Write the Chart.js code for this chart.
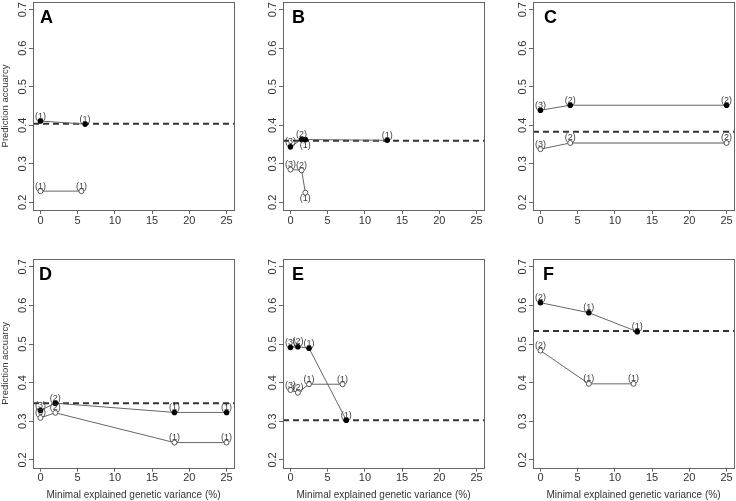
<!DOCTYPE html>
<html><head><meta charset="utf-8">
<script src="https://cdn.jsdelivr.net/npm/chart.js@4/dist/chart.umd.min.js"></script>
<style>
html,body{margin:0;padding:0;background:#fff;overflow:hidden;width:736px;height:501px}
#wrap{position:relative;width:736px;height:501px;overflow:hidden;background:#fff}
.p{position:absolute}
canvas{display:block}
</style></head>
<body><div id="wrap"></div>
<script>
// ---------- DATA ----------
const xTicks = [0, 5, 10, 15, 20, 25];
const yTicks = [0.2, 0.3, 0.4, 0.5, 0.6, 0.7];
const xTitle = 'Minimal explained genetic variance (%)';
const yTitle = 'Prediction accuarcy';
const panelLetters = ['A', 'B', 'C', 'D', 'E', 'F'];
const baselines = [0.404, 0.360, 0.383, 0.347, 0.303, 0.534];

// Panel A
const aFilledX = [0, 6];        const aFilledY = [0.411, 0.403];      const aFilledLab = ['(1)', '(1)'];
const aOpenX = [0, 5.5];        const aOpenY = [0.229, 0.229];        const aOpenLab = ['(1)', '(1)'];
// Panel B
const bFilledX = [0, 1.5, 2, 13]; const bFilledY = [0.344, 0.363, 0.363, 0.361]; const bFilledLab = ['(3)', '(2)', '(1)', '(1)'];
const bOpenX = [0, 1.5, 2];     const bOpenY = [0.285, 0.283, 0.225]; const bOpenLab = ['(3)', '(2)', '(1)'];
// Panel C
const cFilledX = [0, 4, 25];    const cFilledY = [0.439, 0.452, 0.452]; const cFilledLab = ['(3)', '(2)', '(2)'];
const cOpenX = [0, 4, 25];      const cOpenY = [0.338, 0.354, 0.354]; const cOpenLab = ['(3)', '(2)', '(2)'];
// Panel D
const dFilledX = [0, 2, 18, 25]; const dFilledY = [0.328, 0.347, 0.323, 0.323]; const dFilledLab = ['(3)', '(2)', '(1)', '(1)'];
const dOpenX = [0, 2, 18, 25];  const dOpenY = [0.309, 0.322, 0.245, 0.245]; const dOpenLab = ['(3)', '(2)', '(1)', '(1)'];
// Panel E
const eFilledX = [0, 1, 2.5, 7.5]; const eFilledY = [0.491, 0.493, 0.489, 0.303]; const eFilledLab = ['(3)', '(2)', '(1)', '(1)'];
const eOpenX = [0, 1, 2.5, 7];  const eOpenY = [0.381, 0.374, 0.396, 0.396]; const eOpenLab = ['(3)', '(2)', '(1)', '(1)'];
// Panel F
const fFilledX = [0, 6.5, 13];  const fFilledY = [0.607, 0.581, 0.532]; const fFilledLab = ['(2)', '(1)', '(1)'];
const fOpenX = [0, 6.5, 12.5];  const fOpenY = [0.483, 0.397, 0.397]; const fOpenLab = ['(2)', '(1)', '(1)'];

// which labels sit below their point
const bFilledBelow = [0, 0, 1, 0];
const bOpenBelow = [0, 0, 1];

// ---------- LAYOUT / STYLE ----------
const FONT = '"Liberation Sans", Arial, Helvetica, sans-serif';
const panels = [
  {fx: aFilledX, fy: aFilledY, fl: aFilledLab, ox: aOpenX, oy: aOpenY, ol: aOpenLab, col: 0, row: 0, letterDx: 7},
  {fx: bFilledX, fy: bFilledY, fl: bFilledLab, ox: bOpenX, oy: bOpenY, ol: bOpenLab, col: 1, row: 0, letterDx: 9, fb: bFilledBelow, ob: bOpenBelow},
  {fx: cFilledX, fy: cFilledY, fl: cFilledLab, ox: cOpenX, oy: cOpenY, ol: cOpenLab, col: 2, row: 0, letterDx: 11, lightTail: true},
  {fx: dFilledX, fy: dFilledY, fl: dFilledLab, ox: dOpenX, oy: dOpenY, ol: dOpenLab, col: 0, row: 1, letterDx: 6},
  {fx: eFilledX, fy: eFilledY, fl: eFilledLab, ox: eOpenX, oy: eOpenY, ol: eOpenLab, col: 1, row: 1, letterDx: 9},
  {fx: fFilledX, fy: fFilledY, fl: fFilledLab, ox: fOpenX, oy: fOpenY, ol: fOpenLab, col: 2, row: 1, letterDx: 10}
];

const zip = (xs, ys) => xs.map((x, i) => ({x: x, y: ys[i]}));

const wrap = document.getElementById('wrap');

panels.forEach((p, idx) => {
  const W = 250;
  const H = p.row === 0 ? 240 : 261;
  const div = document.createElement('div');
  div.className = 'p';
  div.style.left = (p.col * 250) + 'px';
  div.style.top = (p.row === 0 ? 0 : 240) + 'px';
  div.style.width = W + 'px';
  div.style.height = H + 'px';
  const cv = document.createElement('canvas');
  cv.width = W; cv.height = H;
  div.appendChild(cv);
  wrap.appendChild(div);

  const padTop = p.row === 0 ? 2 : 19;
  const xAxisH = p.row === 0 ? 30 : 33.3;
  const baseline = baselines[idx];

  const decor = {
    id: 'decor' + idx,
    beforeDatasetsDraw(chart) {
      const ctx = chart.ctx, a = chart.chartArea;
      const yv = chart.scales.y.getPixelForValue(baseline);
      ctx.save();
      ctx.strokeStyle = '#333';
      ctx.lineWidth = 2;
      ctx.setLineDash([6, 4]);
      ctx.beginPath();
      ctx.moveTo(a.left, yv);
      ctx.lineTo(a.right, yv);
      ctx.stroke();
      ctx.restore();
    },
    afterDatasetsDraw(chart) {
      const ctx = chart.ctx, a = chart.chartArea;
      ctx.save();
      // point labels
      ctx.font = '9px ' + FONT;
      ctx.fillStyle = '#3a3a3a';
      ctx.textAlign = 'center';
      ctx.textBaseline = 'middle';
      [[0, p.fl, p.fb], [1, p.ol, p.ob]].forEach(([di, labs, below]) => {
        const meta = chart.getDatasetMeta(di);
        meta.data.forEach((el, i) => {
          const dy = (below && below[i]) ? 6 : -5;
          ctx.fillText(labs[i], el.x, el.y + dy);
        });
      });
      // box
      ctx.strokeStyle = '#666';
      ctx.lineWidth = 1;
      ctx.setLineDash([]);
      ctx.strokeRect(Math.round(a.left) + 0.5, Math.round(a.top) + 0.5,
                     Math.round(a.right - a.left), Math.round(a.bottom - a.top));
      // panel letter
      ctx.fillStyle = '#000';
      ctx.font = 'bold 18px ' + FONT;
      ctx.textAlign = 'left';
      ctx.textBaseline = 'alphabetic';
      ctx.fillText(panelLetters[idx], a.left + p.letterDx, a.top + 21.4);
      ctx.restore();
    }
  };

  const openDs = {
    data: zip(p.ox, p.oy),
    showLine: true,
    borderColor: '#666',
    borderWidth: 1,
    pointRadius: 2.5,
    pointBorderWidth: 1,
    pointBorderColor: '#555',
    pointBackgroundColor: '#fff',
    order: 2
  };
  if (p.lightTail) {
    openDs.segment = {
      borderColor: c => c.p0DataIndex >= 1 ? '#aaa' : '#666',
      borderWidth: c => c.p0DataIndex >= 1 ? 2 : 1
    };
  }

  new Chart(cv, {
    type: 'scatter',
    data: {
      datasets: [
        {
          data: zip(p.fx, p.fy),
          showLine: true,
          borderColor: '#666',
          borderWidth: 1,
          pointRadius: 2.8,
          pointBorderWidth: 0,
          pointBackgroundColor: '#000',
          pointBorderColor: '#000',
          order: 1
        },
        openDs
      ]
    },
    options: {
      responsive: false,
      animation: false,
      events: [],
      layout: {autoPadding: false, padding: {top: padTop, left: 0, right: 16, bottom: 0}},
      plugins: {legend: {display: false}, tooltip: {enabled: false}},
      scales: {
        x: {
          type: 'linear', min: -1, max: 26,
          afterBuildTicks: s => { s.ticks = xTicks.map(v => ({value: v})); },
          afterFit: s => { s.height = xAxisH; s.paddingLeft = 0; s.paddingRight = 0; },
          grid: {drawOnChartArea: false, drawTicks: true, tickLength: 4, color: '#666'},
          border: {display: false},
          ticks: {autoSkip: false, maxRotation: 0, minRotation: 0, padding: 0,
                  color: '#333', font: {family: FONT, size: 11}},
          title: {display: p.row === 1, text: xTitle, color: '#333', padding: 0,
                  font: {family: FONT, size: 10}}
        },
        y: {
          type: 'linear', min: 0.18, max: 0.72,
          afterBuildTicks: s => { s.ticks = yTicks.map(v => ({value: v})); },
          afterFit: s => { s.width = 33; s.paddingTop = 0; s.paddingBottom = 0; },
          grid: {drawOnChartArea: false, drawTicks: true, tickLength: 4, color: '#666'},
          border: {display: false},
          ticks: {autoSkip: false, minRotation: 90, maxRotation: 90, crossAlign: 'center',
                  padding: -2, color: '#333', font: {family: FONT, size: 11},
                  callback: v => Number(v).toFixed(1)},
          title: {display: p.col === 0, text: yTitle, color: '#333', padding: 0,
                  font: {family: FONT, size: 9.5}}
        }
      }
    },
    plugins: [decor]
  });
});
</script>
</body></html>
